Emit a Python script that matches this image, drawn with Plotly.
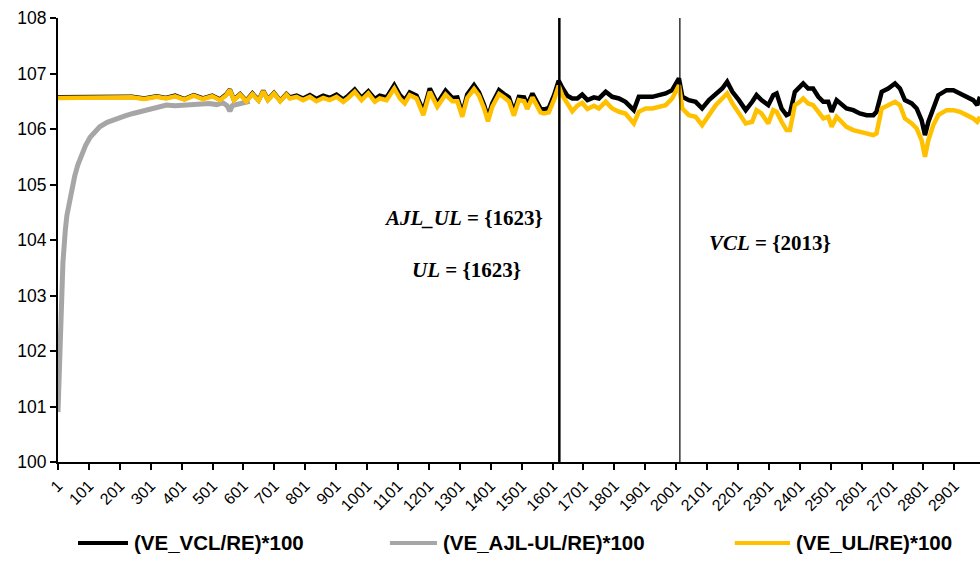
import plotly.graph_objects as go

# ---------------- data ----------------
# shared sample positions for the VCL and UL series
idx_main = [1, 40, 80, 120, 160, 200, 240, 280, 320, 350, 380, 410, 440, 470, 500, 525, 545, 557,
            570, 590, 610, 630, 650, 665, 680, 700, 720, 740,
            751, 773, 794, 816, 837, 859, 880, 902, 924, 940, 961, 983, 1005, 1026, 1042, 1064,
            1089, 1107, 1123, 1139, 1161, 1183, 1204,
            1228, 1255, 1277, 1293, 1309, 1325, 1347, 1363, 1379, 1392, 1406, 1428, 1444, 1460,
            1476, 1492, 1509, 1519, 1536, 1552, 1562, 1573, 1589, 1606, 1621, 1633, 1649, 1665,
            1681, 1697, 1714, 1735,
            1751, 1773, 1794, 1816, 1837, 1864, 1880, 1902, 1924, 1945, 1967, 1988, 2010, 2021,
            2042, 2064, 2085, 2107, 2129, 2150, 2166, 2183, 2204, 2226, 2247,
            2261, 2277, 2299, 2315, 2326, 2342, 2358, 2369, 2385, 2401, 2412, 2428, 2444, 2461,
            2477, 2493, 2504, 2520, 2531, 2552, 2574, 2595, 2617, 2639, 2649, 2666, 2687, 2709,
            2725, 2741, 2763, 2779, 2795, 2806, 2817, 2833, 2849, 2876, 2898, 2919, 2941, 2962,
            2975, 2984]

ve_ul = [106.56, 106.56, 106.57, 106.55, 106.56, 106.55, 106.57, 106.54, 106.58, 106.55, 106.59,
         106.53, 106.60, 106.54, 106.59, 106.52, 106.61, 106.70, 106.52, 106.62, 106.50, 106.63,
         106.51, 106.68, 106.52, 106.64, 106.50, 106.62,
         106.55, 106.58, 106.52, 106.58, 106.50, 106.56, 106.52, 106.58, 106.49, 106.56, 106.67,
         106.52, 106.64, 106.49, 106.55, 106.52, 106.73, 106.55, 106.46, 106.61, 106.55, 106.25,
         106.67,
         106.40, 106.62, 106.50, 106.50, 106.22, 106.56, 106.72, 106.60, 106.38, 106.14, 106.40,
         106.63, 106.57, 106.50, 106.24, 106.52, 106.50, 106.36, 106.57, 106.42, 106.30, 106.28,
         106.30, 106.53, 106.78, 106.60, 106.45, 106.32, 106.42, 106.47, 106.36, 106.42,
         106.37, 106.49, 106.37, 106.31, 106.28, 106.10, 106.31, 106.37, 106.37, 106.40, 106.43,
         106.55, 106.79, 106.37, 106.25, 106.22, 106.07, 106.25, 106.43, 106.55, 106.64, 106.46,
         106.28, 106.10, 106.13,
         106.34, 106.28, 106.10, 106.34, 106.31, 106.13, 105.98, 105.98, 106.43, 106.49, 106.55,
         106.46, 106.43, 106.31, 106.19, 106.22, 106.04, 106.22, 106.16, 106.04, 105.98, 105.95,
         105.92, 105.89, 105.92, 106.37, 106.43, 106.49, 106.43, 106.19, 106.10, 106.01, 105.80,
         105.50, 105.80, 106.07, 106.25, 106.34, 106.34, 106.31, 106.25, 106.19, 106.13, 106.22]

ve_vcl = [106.57, 106.57, 106.58, 106.56, 106.57, 106.56, 106.58, 106.55, 106.59, 106.56, 106.60,
          106.54, 106.61, 106.55, 106.60, 106.53, 106.62, 106.71, 106.53, 106.63, 106.51, 106.64,
          106.52, 106.69, 106.53, 106.65, 106.51, 106.63,
          106.57, 106.60, 106.55, 106.61, 106.54, 106.60, 106.56, 106.62, 106.53, 106.60, 106.71,
          106.56, 106.68, 106.54, 106.60, 106.57, 106.79, 106.61, 106.52, 106.66, 106.60, 106.32,
          106.73,
          106.46, 106.69, 106.56, 106.57, 106.28, 106.62, 106.79, 106.66, 106.44, 106.21, 106.46,
          106.70, 106.63, 106.57, 106.31, 106.58, 106.57, 106.43, 106.64, 106.49, 106.37, 106.35,
          106.38, 106.61, 106.87, 106.74, 106.60, 106.55, 106.55, 106.62, 106.52, 106.57,
          106.55, 106.67, 106.58, 106.55, 106.49, 106.34, 106.58, 106.58, 106.58, 106.61, 106.64,
          106.70, 106.91, 106.58, 106.52, 106.49, 106.37, 106.52, 106.64, 106.73, 106.85, 106.67,
          106.52, 106.34, 106.49,
          106.61, 106.52, 106.43, 106.61, 106.64, 106.37, 106.25, 106.28, 106.67, 106.76, 106.82,
          106.73, 106.73, 106.58, 106.49, 106.49, 106.31, 106.52, 106.46, 106.37, 106.34, 106.28,
          106.25, 106.25, 106.31, 106.67, 106.73, 106.82, 106.73, 106.52, 106.46, 106.37, 106.16,
          105.89, 106.13, 106.37, 106.61, 106.70, 106.70, 106.64, 106.58, 106.52, 106.43, 106.58]

idx_ajl = [1, 4, 7, 10, 14, 17, 20, 25, 30, 39, 45, 55, 65, 77, 90, 105, 120, 136, 160, 190, 220,
           244, 270, 298, 325, 352, 380, 406, 430, 460, 490, 514, 535, 548, 557, 565, 578, 600,
           621]
ve_ajl_ul = [100.90, 101.30, 102.00, 102.60, 103.10, 103.60, 103.90, 104.20, 104.45, 104.72, 104.90,
             105.15, 105.35, 105.53, 105.70, 105.85, 105.95, 106.04, 106.12, 106.19, 106.24, 106.28,
             106.32, 106.37, 106.40, 106.43, 106.42, 106.43, 106.45, 106.44, 106.46, 106.44, 106.47,
             106.42, 106.32, 106.42, 106.44, 106.47, 106.50]

x_tick_vals = list(range(1, 3000, 100))
x_tick_text = [str(v) for v in x_tick_vals]
cut_points = [1623, 2013]

series_names = ["(VE_VCL/RE)*100", "(VE_AJL-UL/RE)*100", "(VE_UL/RE)*100"]
colors = ["#000000", "#A6A6A6", "#FFC000"]

# ---------------- figure ----------------
fig = go.Figure()
fig.add_trace(go.Scatter(x=idx_main, y=ve_vcl, mode="lines", name=series_names[0],
                         line=dict(color=colors[0], width=4.5)))
fig.add_trace(go.Scatter(x=idx_ajl, y=ve_ajl_ul, mode="lines", name=series_names[1],
                         line=dict(color=colors[1], width=5)))
fig.add_trace(go.Scatter(x=idx_main, y=ve_ul, mode="lines", name=series_names[2],
                         line=dict(color=colors[2], width=4.5)))

fig.add_shape(type="line", xref="x", yref="paper", x0=cut_points[0], x1=cut_points[0], y0=0, y1=1,
              line=dict(color="black", width=2.5))
fig.add_shape(type="line", xref="x", yref="paper", x0=cut_points[1], x1=cut_points[1], y0=0, y1=1,
              line=dict(color="black", width=1.2))

ann_font = dict(family="Liberation Serif", size=21, color="black")
fig.add_annotation(xref="paper", yref="paper", x=0.528, y=0.55, xanchor="right", yanchor="middle",
                   text="<b><i>AJL_UL</i> = {1623}</b>", showarrow=False, font=ann_font)
fig.add_annotation(xref="paper", yref="paper", x=0.504, y=0.432, xanchor="right", yanchor="middle",
                   text="<b><i>UL</i> = {1623}</b>", showarrow=False, font=ann_font)
fig.add_annotation(xref="paper", yref="paper", x=0.704, y=0.493, xanchor="left", yanchor="middle",
                   text="<b><i>VCL</i> = {2013}</b>", showarrow=False, font=ann_font)

# legend drawn by hand (sample line + label) so it sits on one row like the reference
leg_line_x = [(0.0217, 0.0759), (0.360, 0.411), (0.734, 0.794)]
leg_y = -0.1824
for (lx0, lx1), name, col in zip(leg_line_x, series_names, colors):
    fig.add_shape(type="line", xref="paper", yref="paper", x0=lx0, x1=lx1, y0=leg_y, y1=leg_y,
                  line=dict(color=col, width=4))
    fig.add_annotation(xref="paper", yref="paper", x=lx1 + 0.004, y=leg_y, xanchor="left",
                       yanchor="middle", text="<b>" + name + "</b>", showarrow=False,
                       font=dict(family="Liberation Sans", size=20.5, color="black"))

fig.update_layout(
    width=980, height=573, autosize=False,
    margin=dict(l=58, r=0, t=18, b=111),
    plot_bgcolor="white", paper_bgcolor="white",
    font=dict(family="Liberation Sans", color="black"),
    showlegend=False,
)

fig.update_xaxes(range=[1, 2984], showgrid=False, zeroline=False, automargin=False,
                 showline=True, linecolor="black", linewidth=2,
                 ticks="outside", ticklen=6, tickwidth=2, tickcolor="black",
                 tickvals=x_tick_vals, ticktext=x_tick_text, tickangle=-45,
                 tickfont=dict(size=16, family="Liberation Sans"))
fig.update_yaxes(range=[100, 108], dtick=1, showgrid=False, zeroline=False, automargin=False,
                 showline=True, linecolor="black", linewidth=2,
                 ticks="outside", ticklen=6, tickwidth=2, tickcolor="black",
                 tickfont=dict(size=17.5, family="Liberation Sans"))

post = ("document.body.style.margin='0';document.body.style.padding='0';"
        "document.documentElement.style.overflow='hidden';"
        "var gd=document.getElementById('{plot_id}');"
        "Plotly.relayout(gd,{width:980,height:573});")
fig.write_html("out.html", post_script=post,
               config={"responsive": False, "displayModeBar": False})
